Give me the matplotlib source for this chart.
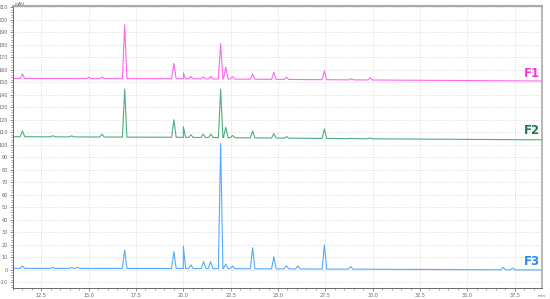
import numpy as np
import matplotlib.pyplot as plt
from matplotlib.ticker import MultipleLocator

# baseline points (time in min, mAU)
f1_base_t = [11.0, 20.0, 30.0, 39.0]
f1_base_v = [153.0, 152.8, 151.8, 151.0]
f2_base_t = [11.0, 20.0, 30.0, 39.0]
f2_base_v = [106.5, 106.0, 104.8, 104.0]
f3_base_t = [11.0, 20.0, 30.0, 39.0]
f3_base_v = [1.3, 1.2, 0.6, 0.0]

# peaks: retention time, apex height
f1_peak_t = [11.5, 15.0, 15.7, 16.9, 19.5, 20.0, 20.4, 21.05, 21.45, 21.97, 22.24, 22.6, 23.66, 24.78, 25.45, 27.45, 28.87, 29.87]
f1_peak_h = [156.5, 154.0, 154.2, 196.0, 165.0, 157.5, 154.5, 154.3, 154.6, 181.0, 162.0, 154.5, 156.5, 158.0, 154.0, 159.0, 152.8, 153.5]
f2_peak_t = [11.5, 13.1, 14.1, 15.7, 16.9, 19.5, 20.0, 20.4, 21.05, 21.45, 21.97, 22.24, 22.6, 23.66, 24.78, 25.45, 27.45, 28.87, 29.87]
f2_peak_h = [111.2, 107.3, 107.2, 108.5, 144.5, 120.0, 114.5, 108.0, 108.5, 108.5, 144.5, 114.0, 107.5, 111.0, 109.0, 106.5, 112.6, 105.3, 105.5]
f3_peak_t = [11.5, 13.1, 14.1, 14.4, 16.9, 19.5, 20.0, 20.4, 21.07, 21.44, 21.97, 22.24, 22.6, 23.66, 24.78, 25.45, 26.05, 27.45, 28.84, 36.9, 37.4]
f3_peak_h = [3.2, 2.2, 2.0, 2.2, 16.0, 14.6, 19.0, 4.0, 6.7, 6.7, 101.0, 4.8, 3.2, 17.8, 10.6, 3.4, 3.2, 20.0, 2.7, 2.0, 1.5]

series = [
    ("F1", f1_base_t, f1_base_v, f1_peak_t, f1_peak_h, "#ff66ee", "#ff33dd", 157.3),
    ("F2", f2_base_t, f2_base_v, f2_peak_t, f2_peak_h, "#4caf7d", "#1f7a4a", 111.8),
    ("F3", f3_base_t, f3_base_v, f3_peak_t, f3_peak_h, "#55aaff", "#2a8cf0", 6.4),
]


def trace(base_t, base_v, peak_t, peak_h, w=0.12):
    xs = list(base_t)
    ys = list(base_v)
    for t, h in zip(peak_t, peak_h):
        b0 = np.interp(t - w, base_t, base_v)
        b1 = np.interp(t + w, base_t, base_v)
        xs += [t - w, t, t + w]
        ys += [b0, h, b1]
    order = np.argsort(xs, kind="stable")
    return np.array(xs)[order], np.array(ys)[order]


fig = plt.figure(figsize=(5.5, 2.99), dpi=100)
ax = fig.add_axes([0.0236, 0.0368, 0.962, 0.943])

for name, bt, bv, pt, ph, lc, tc, ty in series:
    x, y = trace(bt, bv, pt, ph)
    ax.plot(x, y, color=lc, lw=0.8)
    ax.text(38.85, ty, name, color=tc, fontsize=8.5, fontweight="bold",
            ha="right", va="center")

ax.set_xlim(11.0, 38.95)
ax.set_ylim(-14.4, 210.9)
ax.xaxis.set_major_locator(MultipleLocator(2.5))
ax.xaxis.set_minor_locator(MultipleLocator(0.5))
ax.yaxis.set_major_locator(MultipleLocator(10))
ax.yaxis.set_minor_locator(MultipleLocator(2))
ax.xaxis.set_major_formatter(lambda v, p: f"{v:.1f}")
ax.yaxis.set_major_formatter(lambda v, p: f"{v:.0f}")
ax.tick_params(axis="both", which="major", labelsize=3.5, length=2.5,
               width=0.5, colors="#666666", pad=1)
ax.tick_params(axis="both", which="minor", length=1.2, width=0.4,
               colors="#666666")
ax.grid(True, which="major", linestyle=(0, (1, 1.5)), color="#cccccc", lw=0.5)

for s in ["left", "bottom"]:
    ax.spines[s].set_color("#555555")
    ax.spines[s].set_linewidth(0.6)
ax.spines["top"].set_color("#aaaaaa")
ax.spines["top"].set_linewidth(1.5)
ax.spines["right"].set_color("#aaaaaa")
ax.spines["right"].set_linewidth(1.2)

fig.text(0.027, 0.993, "mAU", fontsize=3.2, color="#666666", va="top")
fig.text(0.993, 0.004, "min", fontsize=3.2, color="#666666", ha="right",
         va="bottom")

fig.savefig("out.png", dpi=100)
